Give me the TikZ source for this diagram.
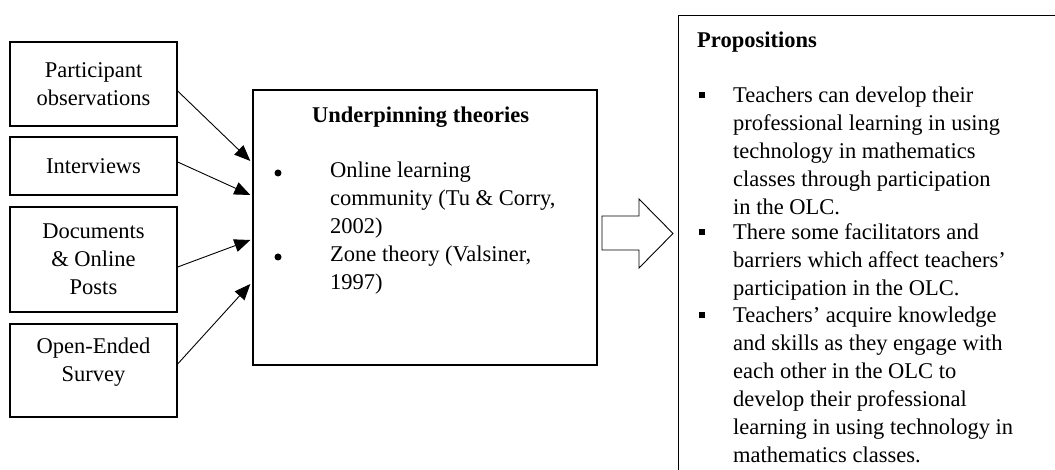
\documentclass[tikz,border=0pt]{standalone}
\usepackage{fontspec}
\setmainfont{Liberation Serif}
\usetikzlibrary{arrows.meta}

\begin{document}
\begin{tikzpicture}[x=1pt,y=1pt,
  every node/.style={font=\fontsize{22.5}{28}\selectfont},
  srcbox/.style={draw, line width=1.3pt, align=center, minimum width=167pt, inner sep=0pt},
  bigbox/.style={draw, line width=1.3pt, inner sep=0pt},
  % multi-line text: the base anchor sits on the last line
  itemtext/.style={anchor=base west, align=left, inner sep=0pt},
  headtext/.style={anchor=base west, inner sep=0pt, font=\fontsize{22.5}{28}\selectfont\bfseries},
  feed/.style={line width=0.9pt, -{Triangle[length=16pt,width=13pt]}},
  dot/.style={circle, fill, inner sep=0pt, minimum size=7pt},
  sqbullet/.style={rectangle, fill, inner sep=0pt, minimum size=5.5pt}
]
\useasboundingbox (0,0) rectangle (1055,470);

% data sources
\node[srcbox, minimum height=84pt]  (obs)  at (93.5,386)   {Participant\\observations};
\node[srcbox, minimum height=58pt]  (intv) at (93.5,304)   {Interviews};
\node[srcbox, minimum height=105pt] (docs) at (93.5,210.5) {Documents\\\& Online\\Posts};
\node[srcbox, minimum height=93pt]  (surv) at (93.5,99.5)  {};
\node[align=center, inner sep=0pt] (survt) at (93.5,108) {Open-Ended\\Survey};

% theories box
\node[bigbox, minimum width=344pt, minimum height=275pt] (theory) at (425,242.5) {};
\node[headtext] (thead) at (312,347) {Underpinning theories};
\node[dot] (d1) at (278,297) {};
\node[itemtext] (t1) at (330,236) {Online learning\\community (Tu \& Corry,\\2002)};
\node[dot] (d2) at (278,213) {};
\node[itemtext] (t2) at (330,180) {Zone theory (Valsiner,\\1997)};

% arrows into the theories box
\draw[feed] ([yshift=-7pt]obs.east)    -- ([xshift=-2pt,yshift=66.5pt]theory.west);
\draw[feed] ([yshift=4pt]intv.east)    -- ([xshift=-2pt,yshift=32.5pt]theory.west);
\draw[feed] ([yshift=-7.5pt]docs.east) -- ([xshift=-2pt,yshift=-12.5pt]theory.west);
\draw[feed] ([yshift=6.5pt]surv.east)  -- ([xshift=-2pt,yshift=-56.5pt]theory.west);

% block arrow towards the propositions
\draw[line width=0.9pt, fill=white]
  (602,254) -- (639,254) -- (639,271) -- (673,236.5) -- (639,202) -- (639,220) -- (602,220) -- cycle;

% propositions box (runs past the page edge)
\begin{scope}
\clip (0,0) rectangle (1055,470);
\node[bigbox, anchor=north west, minimum width=420pt, minimum height=500pt] (props) at (678,455) {};
\end{scope}
\node[headtext] (phead) at (697,422) {Propositions};
\node[sqbullet] (s1) at (702,375) {};
\node[itemtext] (p1) at (733,255) {Teachers can develop their\\professional learning in using\\technology in mathematics\\classes through participation\\in the OLC.};
\node[sqbullet] (s2) at (702,238) {};
\node[itemtext] (p2) at (733,174) {There some facilitators and\\barriers which affect teachers’\\participation in the OLC.};
\node[sqbullet] (s3) at (702,155) {};
\node[itemtext] (p3) at (733,7) {Teachers’ acquire knowledge\\and skills as they engage with\\each other in the OLC to\\develop their professional\\learning in using technology in\\mathematics classes.};
\end{tikzpicture}
\end{document}
